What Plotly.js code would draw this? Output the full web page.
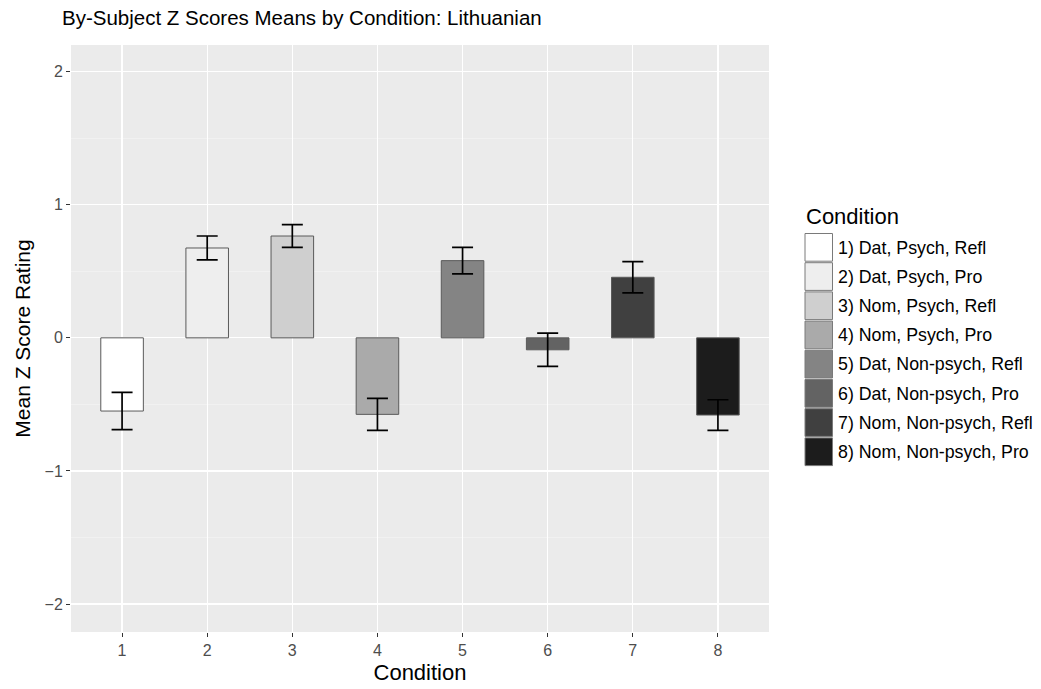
<!DOCTYPE html>
<html>
<head>
<meta charset="utf-8">
<script src="https://cdn.plot.ly/plotly-3.0.1.min.js"></script>
<style>html,body{margin:0;padding:0;background:#fff;}#chart{width:1041px;height:689px;}</style>
</head>
<body>
<div id="chart"></div>
<script>
const categories = ["1","2","3","4","5","6","7","8"];
const conditionLabels = [
  "1) Dat, Psych, Refl",
  "2) Dat, Psych, Pro",
  "3) Nom, Psych, Refl",
  "4) Nom, Psych, Pro",
  "5) Dat, Non-psych, Refl",
  "6) Dat, Non-psych, Pro",
  "7) Nom, Non-psych, Refl",
  "8) Nom, Non-psych, Pro"
];
const meanZ = [-0.55, 0.675, 0.765, -0.575, 0.58, -0.09, 0.455, -0.58];
const errZ = [0.14, 0.09, 0.085, 0.12, 0.10, 0.125, 0.117, 0.115];
const fills = ["#FFFFFF","#EEEEEE","#CFCFCF","#AAAAAA","#848484","#636363","#404040","#1C1C1C"];

const font = "Liberation Sans, Arial, sans-serif";

const traces = categories.map((c, i) => ({
  type: "bar",
  x: [c],
  y: [meanZ[i]],
  name: conditionLabels[i],
  width: 0.5,
  marker: {color: fills[i], line: {color: "#5A5A5A", width: 1}},
  error_y: {type: "data", array: [errZ[i]], visible: true, color: "#000000", thickness: 1.7, width: 10.5},
  showlegend: false,
  hoverinfo: "x+y"
}));

// manual ggplot-style legend
const shapes = [];
const annotations = [];
const legX = 805, legY0 = 233, keyH = 29.2, keyW = 27.5;
const px = v => (v - 71) / 698;
const py = v => 1 - (v - 45) / 587;
annotations.push({
  xref: "paper", yref: "paper", x: px(legX - 1), y: py(216),
  xanchor: "left", yanchor: "middle", text: "Condition", showarrow: false,
  font: {family: font, size: 22, color: "#000"}
});
conditionLabels.forEach((lab, i) => {
  const top = legY0 + i * keyH;
  shapes.push({
    type: "rect", xref: "paper", yref: "paper",
    x0: px(legX), x1: px(legX + keyW), y0: py(top + keyH - 1), y1: py(top + 0.5),
    fillcolor: fills[i], line: {color: "#7A7A7A", width: 1}
  });
  annotations.push({
    xref: "paper", yref: "paper", x: px(legX + keyW + 3), y: py(top + keyH / 2),
    xanchor: "left", yanchor: "middle", text: lab, showarrow: false,
    font: {family: font, size: 17.8, color: "#000"}
  });
});

const layout = {
  width: 1041, height: 689,
  margin: {l: 71, r: 272, t: 45, b: 57},
  paper_bgcolor: "#FFFFFF",
  plot_bgcolor: "#EBEBEB",
  title: {text: "By-Subject Z Scores Means by Condition: Lithuanian", x: 62 / 1041, xanchor: "left", y: 1 - 18 / 689, yanchor: "middle",
    font: {family: font, size: 20.5, color: "#000"}},
  xaxis: {
    type: "category", categoryorder: "array", categoryarray: categories,
    range: [-0.6, 7.6],
    showgrid: true, gridcolor: "#FFFFFF", gridwidth: 1.3,
    zeroline: false, showline: false,
    ticks: "outside", ticklen: 4, tickwidth: 1, tickcolor: "#333333",
    tickfont: {family: font, size: 16, color: "#4D4D4D"},
    title: {text: "Condition", font: {family: font, size: 22, color: "#000"}, standoff: 6}
  },
  yaxis: {
    range: [-2.21, 2.2],
    tickvals: [-2, -1, 0, 1, 2],
    showgrid: true, gridcolor: "#FFFFFF", gridwidth: 1.3,
    minor: {tickvals: [-1.5, -0.5, 0.5, 1.5], showgrid: true, gridcolor: "#F5F5F5", gridwidth: 0.6, ticks: ""},
    zeroline: false, showline: false,
    ticks: "outside", ticklen: 4, tickwidth: 1, tickcolor: "#333333",
    tickfont: {family: font, size: 16, color: "#4D4D4D"},
    title: {text: "Mean Z Score Rating", font: {family: font, size: 21, color: "#000"}, standoff: 8}
  },
  bargap: 0.5,
  shapes: shapes,
  annotations: annotations,
  showlegend: false
};

Plotly.newPlot("chart", traces, layout, {displayModeBar: false, staticPlot: true});
</script>
</body>
</html>
